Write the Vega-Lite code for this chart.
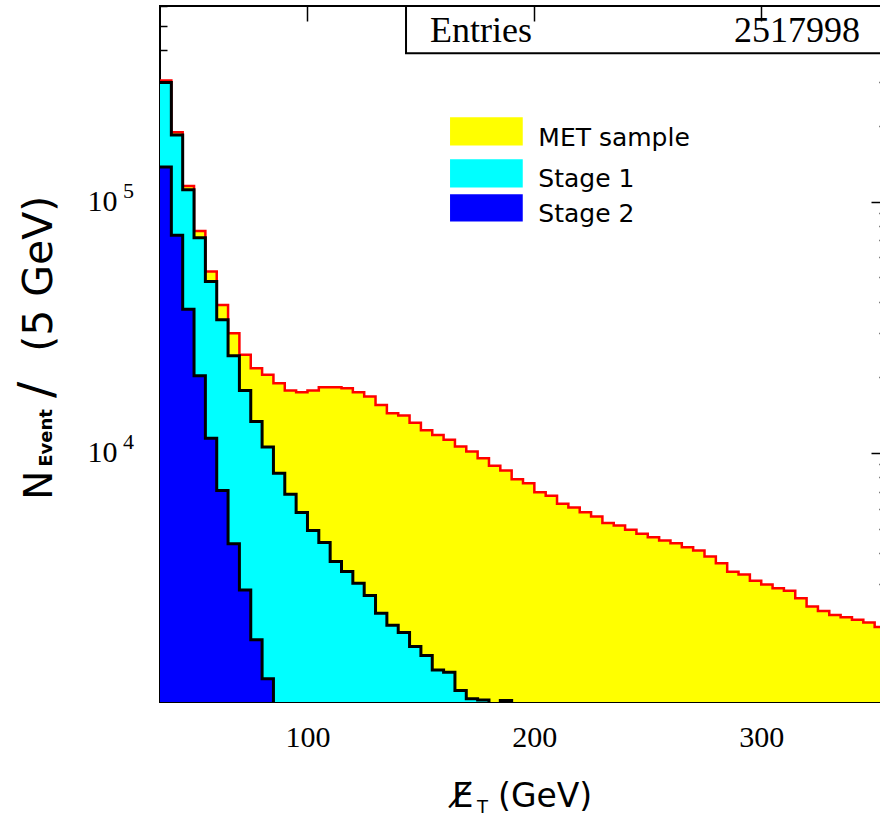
{
 "$schema": "https://vega.github.io/schema/vega-lite/v6.json",
 "width": 726, "height": 696,
 "autosize": {"type": "none"},
 "padding": {"left": 160, "top": 6, "right": 0, "bottom": 120},
 "background": "white",
 "config": {
  "view": {"stroke": "#000", "strokeWidth": 2},
  "axis": {"domain": false, "grid": false, "title": null, "labelFont": "Liberation Serif", "labelFontSize": 30, "labelColor": "#000", "tickColor": "#000", "tickWidth": 1.5, "zindex": 2}
 },
 "datasets": {
  "h": [
   {"s":"total","lo":35,"v":303000},{"s":"total","lo":40,"v":188900},{"s":"total","lo":45,"v":115300},{"s":"total","lo":50,"v":76300},
   {"s":"total","lo":55,"v":52700},{"s":"total","lo":60,"v":38800},{"s":"total","lo":65,"v":29950},{"s":"total","lo":70,"v":24550},
   {"s":"total","lo":75,"v":21730},{"s":"total","lo":80,"v":20440},{"s":"total","lo":85,"v":18940},{"s":"total","lo":90,"v":17700},
   {"s":"total","lo":95,"v":17440},{"s":"total","lo":100,"v":17700},{"s":"total","lo":105,"v":18260},{"s":"total","lo":110,"v":18260},
   {"s":"total","lo":115,"v":18090},{"s":"total","lo":120,"v":17440},{"s":"total","lo":125,"v":16750},{"s":"total","lo":130,"v":15520},
   {"s":"total","lo":135,"v":14390},{"s":"total","lo":140,"v":14080},{"s":"total","lo":145,"v":13190},{"s":"total","lo":150,"v":12290},
   {"s":"total","lo":155,"v":11790},{"s":"total","lo":160,"v":11270},{"s":"total","lo":165,"v":10600},{"s":"total","lo":170,"v":10120},
   {"s":"total","lo":175,"v":9526},{"s":"total","lo":180,"v":8876},{"s":"total","lo":185,"v":8503},{"s":"total","lo":190,"v":7857},
   {"s":"total","lo":195,"v":7575},{"s":"total","lo":200,"v":6977},{"s":"total","lo":205,"v":6745},{"s":"total","lo":210,"v":6267},
   {"s":"total","lo":215,"v":6057},{"s":"total","lo":220,"v":5808},{"s":"total","lo":225,"v":5579},{"s":"total","lo":230,"v":5253},
   {"s":"total","lo":235,"v":5138},{"s":"total","lo":240,"v":4939},{"s":"total","lo":245,"v":4761},{"s":"total","lo":250,"v":4619},
   {"s":"total","lo":255,"v":4477},{"s":"total","lo":260,"v":4372},{"s":"total","lo":265,"v":4215},{"s":"total","lo":270,"v":4085},
   {"s":"total","lo":275,"v":3867},{"s":"total","lo":280,"v":3640},{"s":"total","lo":285,"v":3361},{"s":"total","lo":290,"v":3279},
   {"s":"total","lo":295,"v":3095},{"s":"total","lo":300,"v":2992},{"s":"total","lo":305,"v":2889},{"s":"total","lo":310,"v":2824},
   {"s":"total","lo":315,"v":2641},{"s":"total","lo":320,"v":2445},{"s":"total","lo":325,"v":2350},{"s":"total","lo":330,"v":2266},
   {"s":"total","lo":335,"v":2219},{"s":"total","lo":340,"v":2165},{"s":"total","lo":345,"v":2112},{"s":"total","lo":350,"v":2030},
   {"s":"total","lo":355,"v":2000},
   {"s":"s1","lo":35,"v":297500},{"s":"s1","lo":40,"v":183800},{"s":"s1","lo":45,"v":111300},{"s":"s1","lo":50,"v":71700},
   {"s":"s1","lo":55,"v":48050},{"s":"s1","lo":60,"v":33820},{"s":"s1","lo":65,"v":24320},{"s":"s1","lo":70,"v":17700},
   {"s":"s1","lo":75,"v":13320},{"s":"s1","lo":80,"v":10540},{"s":"s1","lo":85,"v":8303},{"s":"s1","lo":90,"v":6837},
   {"s":"s1","lo":95,"v":5787},{"s":"s1","lo":100,"v":4907},{"s":"s1","lo":105,"v":4395},{"s":"s1","lo":110,"v":3693},
   {"s":"s1","lo":115,"v":3370},{"s":"s1","lo":120,"v":3030},{"s":"s1","lo":125,"v":2704},{"s":"s1","lo":130,"v":2302},
   {"s":"s1","lo":135,"v":2063},{"s":"s1","lo":140,"v":1927},{"s":"s1","lo":145,"v":1695},{"s":"s1","lo":150,"v":1563},
   {"s":"s1","lo":155,"v":1369},{"s":"s1","lo":160,"v":1341},{"s":"s1","lo":165,"v":1133},{"s":"s1","lo":170,"v":1050},
   {"s":"s1","lo":175,"v":1040},{"s":"s1","lo":180,"v":900},{"s":"s1","lo":185,"v":1035},{"s":"s1","lo":190,"v":900},
   {"s":"s2","lo":35,"v":137100},{"s":"s2","lo":40,"v":73370},{"s":"s2","lo":45,"v":37300},{"s":"s2","lo":50,"v":20250},
   {"s":"s2","lo":55,"v":11440},{"s":"s2","lo":60,"v":7090},{"s":"s2","lo":65,"v":4344},{"s":"s2","lo":70,"v":2849},
   {"s":"s2","lo":75,"v":1803},{"s":"s2","lo":80,"v":1261},{"s":"s2","lo":85,"v":900}
  ]
 },
 "data": {"name": "h"},
 "resolve": {"axis": {"x": "independent", "y": "independent"}},
 "layer": [
  {
   "transform": [{"filter": "datum.s === 'total'"}],
   "mark": {"type": "area", "interpolate": "step-after", "clip": true, "opacity": 1, "fill": "#ffff00"},
   "encoding": {
    "x": {"field": "lo", "type": "quantitative", "scale": {"domain": [35, 355], "nice": false, "zero": false},
          "axis": {"orient": "bottom", "values": [100, 200, 300], "tickSize": -15, "labelPadding": 35, "format": "d"}},
    "y": {"field": "v", "type": "quantitative", "scale": {"type": "log", "domain": [1020, 600000], "nice": false},
          "axis": {"orient": "left", "values": [2000,3000,4000,5000,6000,7000,8000,9000,10000,20000,30000,40000,50000,60000,70000,80000,90000,100000,200000,300000,400000,500000,600000],
                   "labelExpr": "datum.value == 10000 || datum.value == 100000 ? '10' : ''",
                   "tickSize": {"condition": {"test": "datum.value == 10000 || datum.value == 100000", "value": -15}, "value": -7},
                   "labelPadding": 58}},
    "y2": {"datum": 500}
   }
  },
  {
   "transform": [{"filter": "datum.s === 'total'"}],
   "mark": {"type": "line", "interpolate": "step-after", "clip": true, "stroke": "#ff0000", "strokeWidth": 2.5},
   "encoding": {
    "x": {"field": "lo", "type": "quantitative", "scale": {"domain": [35, 355], "nice": false, "zero": false},
          "axis": {"orient": "top", "values": [100, 200, 300], "tickSize": -15, "labels": false, "zindex": 3}},
    "y": {"field": "v", "type": "quantitative", "scale": {"type": "log", "domain": [1020, 600000], "nice": false},
          "axis": {"orient": "right", "values": [2000,3000,4000,5000,6000,7000,8000,9000,10000,20000,30000,40000,50000,60000,70000,80000,90000,100000,200000,300000,400000,500000,600000],
                   "labels": false,
                   "tickSize": {"condition": {"test": "datum.value == 10000 || datum.value == 100000", "value": -15}, "value": -7}}}
   }
  },
  {
   "transform": [{"filter": "datum.s === 's1'"}],
   "mark": {"type": "area", "interpolate": "step-after", "clip": true, "opacity": 1, "fill": "#00ffff"},
   "encoding": {
    "x": {"field": "lo", "type": "quantitative", "scale": {"domain": [35, 355], "nice": false, "zero": false}, "axis": null},
    "y": {"field": "v", "type": "quantitative", "scale": {"type": "log", "domain": [1020, 600000], "nice": false}, "axis": null},
    "y2": {"datum": 500}
   }
  },
  {
   "transform": [{"filter": "datum.s === 's1'"}],
   "mark": {"type": "line", "interpolate": "step-after", "clip": true, "stroke": "#000000", "strokeWidth": 3},
   "encoding": {
    "x": {"field": "lo", "type": "quantitative", "scale": {"domain": [35, 355], "nice": false, "zero": false}, "axis": null},
    "y": {"field": "v", "type": "quantitative", "scale": {"type": "log", "domain": [1020, 600000], "nice": false}, "axis": null}
   }
  },
  {
   "transform": [{"filter": "datum.s === 's2'"}],
   "mark": {"type": "area", "interpolate": "step-after", "clip": true, "opacity": 1, "fill": "#0000ff"},
   "encoding": {
    "x": {"field": "lo", "type": "quantitative", "scale": {"domain": [35, 355], "nice": false, "zero": false}, "axis": null},
    "y": {"field": "v", "type": "quantitative", "scale": {"type": "log", "domain": [1020, 600000], "nice": false}, "axis": null},
    "y2": {"datum": 500}
   }
  },
  {
   "transform": [{"filter": "datum.s === 's2'"}],
   "mark": {"type": "line", "interpolate": "step-after", "clip": true, "stroke": "#000000", "strokeWidth": 3},
   "encoding": {
    "x": {"field": "lo", "type": "quantitative", "scale": {"domain": [35, 355], "nice": false, "zero": false}, "axis": null},
    "y": {"field": "v", "type": "quantitative", "scale": {"type": "log", "domain": [1020, 600000], "nice": false}, "axis": null}
   }
  },
  {
   "data": {"values": [{}]},
   "mark": {"type": "rect", "fill": "#ffff00", "clip": false},
   "encoding": {
    "x": {"datum": 162.84, "type": "quantitative", "scale": {"domain": [35, 355], "nice": false, "zero": false}, "axis": null},
    "x2": {"datum": 194.89},
    "y": {"datum": 216700, "type": "quantitative", "scale": {"type": "log", "domain": [1020, 600000], "nice": false}, "axis": null},
    "y2": {"datum": 167050}
   }
  },
  {
   "data": {"values": [{}]},
   "mark": {"type": "rect", "fill": "#00ffff", "clip": false},
   "encoding": {
    "x": {"datum": 162.84, "type": "quantitative", "scale": {"domain": [35, 355], "nice": false, "zero": false}, "axis": null},
    "x2": {"datum": 194.89},
    "y": {"datum": 147500, "type": "quantitative", "scale": {"type": "log", "domain": [1020, 600000], "nice": false}, "axis": null},
    "y2": {"datum": 113680}
   }
  },
  {
   "data": {"values": [{}]},
   "mark": {"type": "rect", "fill": "#0000ff", "clip": false},
   "encoding": {
    "x": {"datum": 162.84, "type": "quantitative", "scale": {"domain": [35, 355], "nice": false, "zero": false}, "axis": null},
    "x2": {"datum": 194.89},
    "y": {"datum": 107020, "type": "quantitative", "scale": {"type": "log", "domain": [1020, 600000], "nice": false}, "axis": null},
    "y2": {"datum": 83260}
   }
  },
  {
   "data": {"values": [{}]},
   "mark": {"type": "text", "text": "MET sample", "font": "DejaVu Sans", "fontSize": 25, "align": "left", "baseline": "alphabetic", "color": "#000", "clip": false},
   "encoding": {
    "x": {"datum": 201.76, "type": "quantitative", "scale": {"domain": [35, 355], "nice": false, "zero": false}, "axis": null},
    "y": {"datum": 167050, "type": "quantitative", "scale": {"type": "log", "domain": [1020, 600000], "nice": false}, "axis": null}
   }
  },
  {
   "data": {"values": [{}]},
   "mark": {"type": "text", "text": "Stage 1", "font": "DejaVu Sans", "fontSize": 25, "align": "left", "baseline": "alphabetic", "color": "#000", "clip": false},
   "encoding": {
    "x": {"datum": 201.76, "type": "quantitative", "scale": {"domain": [35, 355], "nice": false, "zero": false}, "axis": null},
    "y": {"datum": 114720, "type": "quantitative", "scale": {"type": "log", "domain": [1020, 600000], "nice": false}, "axis": null}
   }
  },
  {
   "data": {"values": [{}]},
   "mark": {"type": "text", "text": "Stage 2", "font": "DejaVu Sans", "fontSize": 25, "align": "left", "baseline": "alphabetic", "color": "#000", "clip": false},
   "encoding": {
    "x": {"datum": 201.76, "type": "quantitative", "scale": {"domain": [35, 355], "nice": false, "zero": false}, "axis": null},
    "y": {"datum": 83260, "type": "quantitative", "scale": {"type": "log", "domain": [1020, 600000], "nice": false}, "axis": null}
   }
  },
  {
   "data": {"values": [{}]},
   "mark": {"type": "rect", "fill": "#ffffff", "stroke": "#000000", "strokeWidth": 2, "clip": false},
   "encoding": {
    "x": {"datum": 143.44, "type": "quantitative", "scale": {"domain": [35, 355], "nice": false, "zero": false}, "axis": null},
    "x2": {"datum": 362},
    "y": {"datum": 600000, "type": "quantitative", "scale": {"type": "log", "domain": [1020, 600000], "nice": false}, "axis": null},
    "y2": {"datum": 389500}
   }
  },
  {
   "data": {"values": [{}]},
   "mark": {"type": "text", "text": "Entries", "font": "Liberation Serif", "fontSize": 36, "align": "left", "baseline": "alphabetic", "color": "#000", "clip": false},
   "encoding": {
    "x": {"datum": 154.0, "type": "quantitative", "scale": {"domain": [35, 355], "nice": false, "zero": false}, "axis": null},
    "y": {"datum": 432000, "type": "quantitative", "scale": {"type": "log", "domain": [1020, 600000], "nice": false}, "axis": null}
   }
  },
  {
   "data": {"values": [{}]},
   "mark": {"type": "text", "text": "2517998", "font": "Liberation Serif", "fontSize": 36, "align": "right", "baseline": "alphabetic", "color": "#000", "clip": false},
   "encoding": {
    "x": {"datum": 343.57, "type": "quantitative", "scale": {"domain": [35, 355], "nice": false, "zero": false}, "axis": null},
    "y": {"datum": 432000, "type": "quantitative", "scale": {"type": "log", "domain": [1020, 600000], "nice": false}, "axis": null}
   }
  },
  {
   "data": {"values": [{}]},
   "mark": {"type": "text", "text": "5", "font": "Liberation Serif", "fontSize": 22, "align": "left", "baseline": "alphabetic", "color": "#000", "clip": false},
   "encoding": {
    "x": {"datum": 18.69, "type": "quantitative", "scale": {"domain": [35, 355], "nice": false, "zero": false}, "axis": null},
    "y": {"datum": 103450, "type": "quantitative", "scale": {"type": "log", "domain": [1020, 600000], "nice": false}, "axis": null}
   }
  },
  {
   "data": {"values": [{}]},
   "mark": {"type": "text", "text": "4", "font": "Liberation Serif", "fontSize": 22, "align": "left", "baseline": "alphabetic", "color": "#000", "clip": false},
   "encoding": {
    "x": {"datum": 18.69, "type": "quantitative", "scale": {"domain": [35, 355], "nice": false, "zero": false}, "axis": null},
    "y": {"datum": 10345, "type": "quantitative", "scale": {"type": "log", "domain": [1020, 600000], "nice": false}, "axis": null}
   }
  },
  {
   "data": {"values": [{}]},
   "mark": {"type": "text", "text": "N", "font": "DejaVu Sans", "fontSize": 39, "angle": 270, "align": "left", "baseline": "alphabetic", "color": "#000", "clip": false},
   "encoding": {
    "x": {"datum": -12.6, "type": "quantitative", "scale": {"domain": [35, 355], "nice": false, "zero": false}, "axis": null},
    "y": {"datum": 6501, "type": "quantitative", "scale": {"type": "log", "domain": [1020, 600000], "nice": false}, "axis": null}
   }
  },
  {
   "data": {"values": [{}]},
   "mark": {"type": "text", "text": "Event", "font": "DejaVu Sans", "fontSize": 18, "fontWeight": "bold", "angle": 270, "align": "left", "baseline": "alphabetic", "color": "#000", "clip": false},
   "encoding": {
    "x": {"datum": -12.6, "type": "quantitative", "scale": {"domain": [35, 355], "nice": false, "zero": false}, "axis": null},
    "y": {"datum": 8797, "type": "quantitative", "scale": {"type": "log", "domain": [1020, 600000], "nice": false}, "axis": null}
   }
  },
  {
   "data": {"values": [{}]},
   "mark": {"type": "text", "text": "/", "font": "DejaVu Sans", "fontSize": 48, "angle": 270, "align": "center", "baseline": "alphabetic", "color": "#000", "clip": false},
   "encoding": {
    "x": {"datum": -12.6, "type": "quantitative", "scale": {"domain": [35, 355], "nice": false, "zero": false}, "axis": null},
    "y": {"datum": 17810, "type": "quantitative", "scale": {"type": "log", "domain": [1020, 600000], "nice": false}, "axis": null}
   }
  },
  {
   "data": {"values": [{}]},
   "mark": {"type": "text", "text": "(5 GeV)", "font": "DejaVu Sans", "fontSize": 41, "angle": 270, "align": "left", "baseline": "alphabetic", "color": "#000", "clip": false},
   "encoding": {
    "x": {"datum": -12.6, "type": "quantitative", "scale": {"domain": [35, 355], "nice": false, "zero": false}, "axis": null},
    "y": {"datum": 25230, "type": "quantitative", "scale": {"type": "log", "domain": [1020, 600000], "nice": false}, "axis": null}
   }
  },
  {
   "data": {"values": [{}]},
   "mark": {"type": "text", "text": "E̸", "font": "DejaVu Sans", "fontSize": 34, "align": "left", "baseline": "alphabetic", "color": "#000", "clip": false},
   "encoding": {
    "x": {"datum": 163.7, "type": "quantitative", "scale": {"domain": [35, 355], "nice": false, "zero": false}, "axis": null},
    "y": {"datum": 390, "type": "quantitative", "scale": {"type": "log", "domain": [1020, 600000], "nice": false}, "axis": null}
   }
  },
  {
   "data": {"values": [{}]},
   "mark": {"type": "text", "text": "T", "font": "DejaVu Sans", "fontSize": 18, "align": "left", "baseline": "alphabetic", "color": "#000", "clip": false},
   "encoding": {
    "x": {"datum": 174.7, "type": "quantitative", "scale": {"domain": [35, 355], "nice": false, "zero": false}, "axis": null},
    "y": {"datum": 369, "type": "quantitative", "scale": {"type": "log", "domain": [1020, 600000], "nice": false}, "axis": null}
   }
  },
  {
   "data": {"values": [{}]},
   "mark": {"type": "text", "text": "(GeV)", "font": "DejaVu Sans", "fontSize": 33, "align": "left", "baseline": "alphabetic", "color": "#000", "clip": false},
   "encoding": {
    "x": {"datum": 184.0, "type": "quantitative", "scale": {"domain": [35, 355], "nice": false, "zero": false}, "axis": null},
    "y": {"datum": 390, "type": "quantitative", "scale": {"type": "log", "domain": [1020, 600000], "nice": false}, "axis": null}
   }
  }
 ]
}
